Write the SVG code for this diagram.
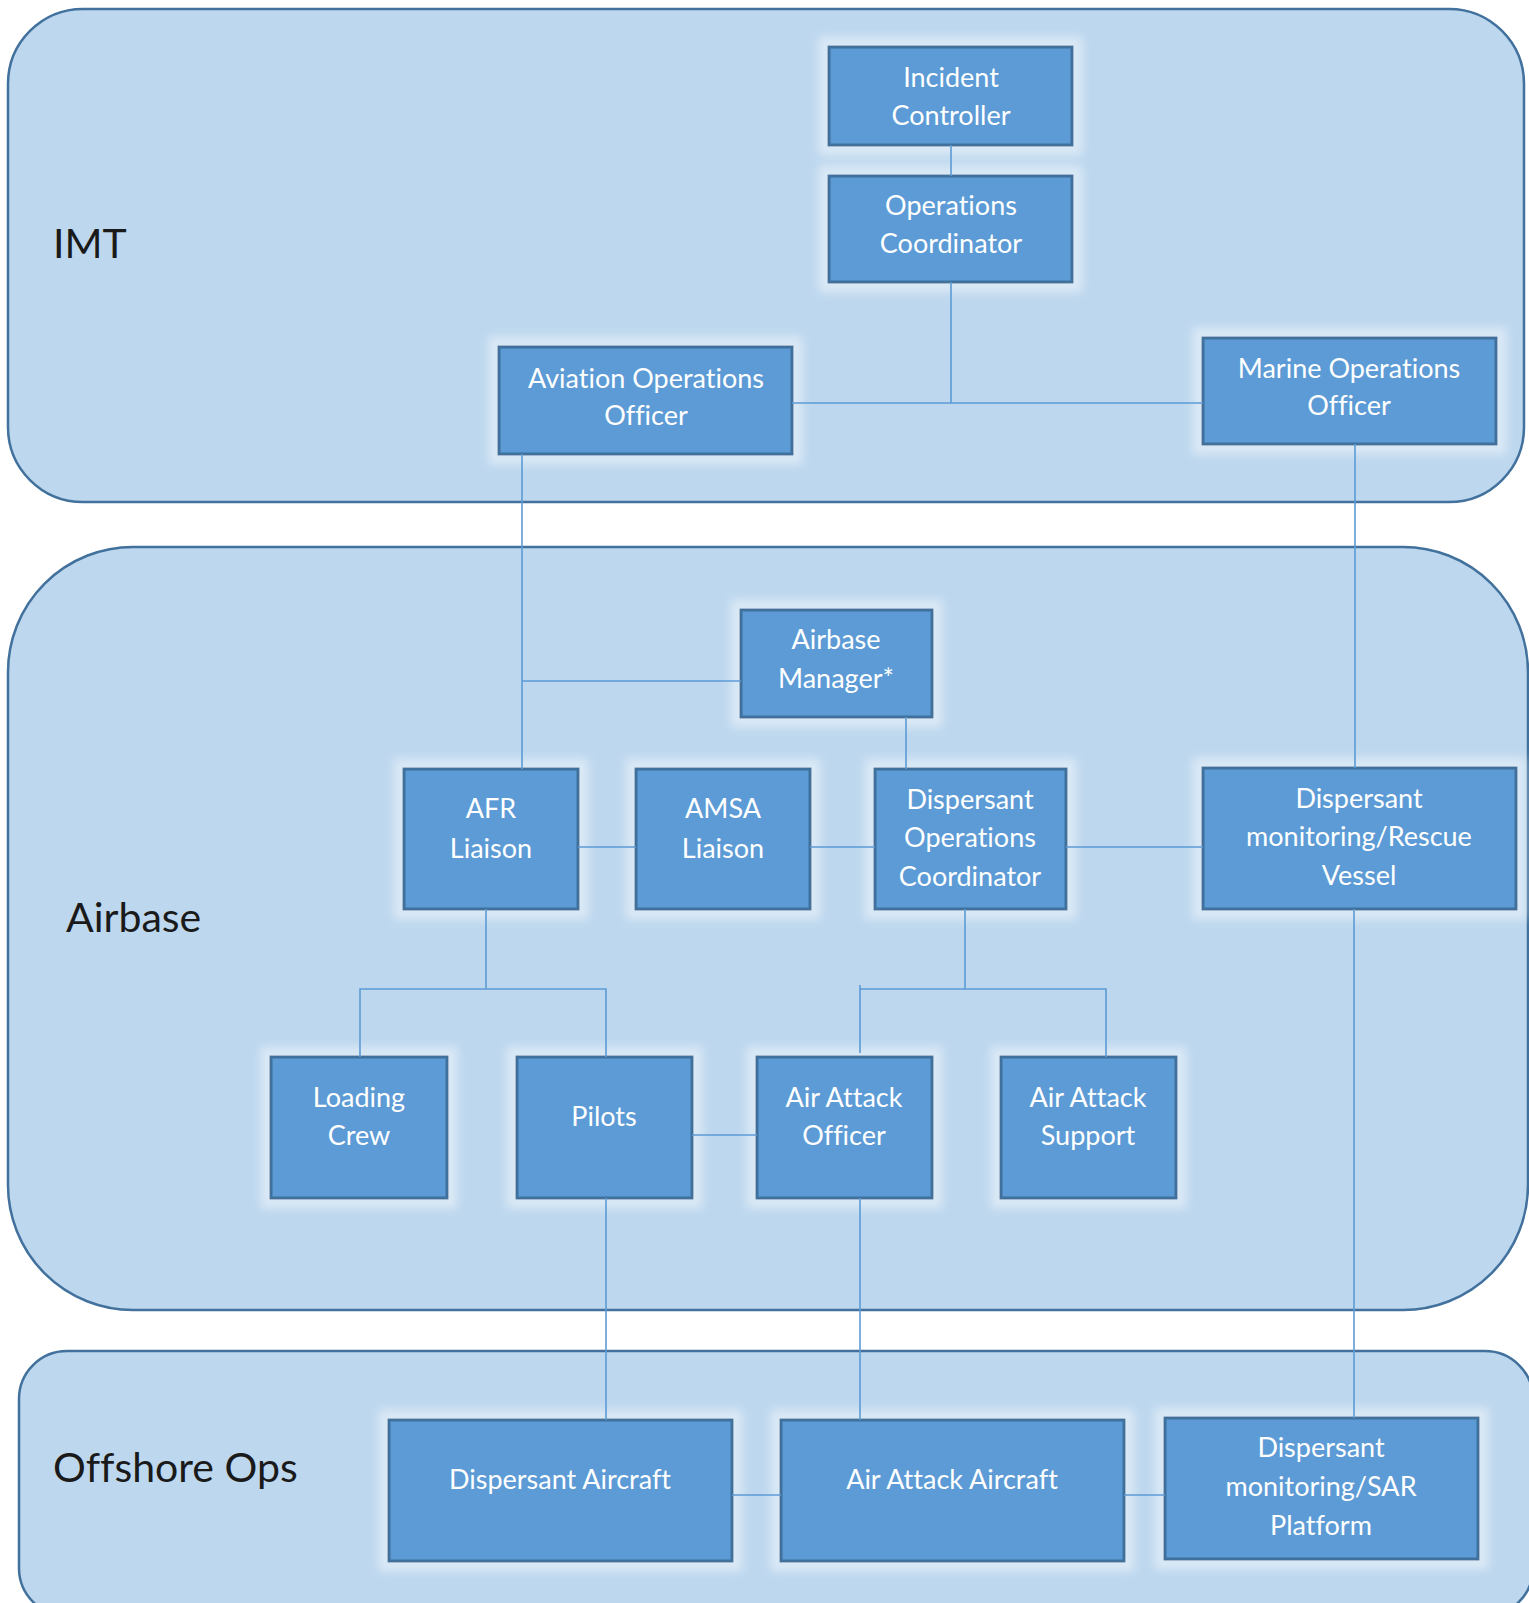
<svg xmlns="http://www.w3.org/2000/svg" width="1529" height="1603" viewBox="0 0 1529 1603">
<defs>
<filter id="glow" x="-20%" y="-30%" width="140%" height="160%">
<feMorphology in="SourceAlpha" operator="dilate" radius="9" result="d"/>
<feGaussianBlur in="d" stdDeviation="5" result="b"/>
<feFlood flood-color="#ffffff" flood-opacity="0.45"/>
<feComposite in2="b" operator="in" result="g"/>
<feMerge><feMergeNode in="g"/><feMergeNode in="SourceGraphic"/></feMerge>
</filter>
<style>
.zone{fill:#BDD7EE;stroke:#41719C;stroke-width:2.5}
.zl{font-family:Lato,"Liberation Sans",sans-serif;font-size:41px;fill:#1a1a1a;font-variant-ligatures:none}
.box{fill:#5B9BD5;stroke:#41719C;stroke-width:3;filter:url(#glow)}
.t{font-family:Lato,"Liberation Sans",sans-serif;font-size:27px;fill:#ffffff;text-anchor:middle;font-variant-ligatures:none}
.c{fill:none;stroke:#5B9BD5;stroke-width:1.6}
</style>
</defs>
<rect width="1529" height="1603" fill="#ffffff"/>
<g id="zone-imt"><rect class="zone" x="8" y="9" width="1516" height="493" rx="75" ry="75"/><text class="zl" x="53" y="258">IMT</text></g>
<g id="zone-airbase"><rect class="zone" x="8" y="547" width="1520" height="763" rx="125" ry="125"/><text class="zl" x="66" y="932">Airbase</text></g>
<g id="zone-offshore"><rect class="zone" x="19" y="1351" width="1514" height="265" rx="48" ry="48"/><text class="zl" x="53" y="1482">Offshore Ops</text></g>

<g id="incident-controller"><rect class="box" x="829" y="47" width="243" height="98"/><text class="t" x="951" y="87">Incident</text><text class="t" x="951" y="125">Controller</text></g>
<g id="operations-coordinator"><rect class="box" x="829" y="176" width="243" height="106"/><text class="t" x="951" y="215">Operations</text><text class="t" x="951" y="253">Coordinator</text></g>
<g id="aviation-operations-officer"><rect class="box" x="499" y="347" width="293" height="107"/><text class="t" x="646" y="388">Aviation Operations</text><text class="t" x="646" y="425">Officer</text></g>
<g id="marine-operations-officer"><rect class="box" x="1203" y="338" width="293" height="106"/><text class="t" x="1349" y="378">Marine Operations</text><text class="t" x="1349" y="415">Officer</text></g>
<g id="airbase-manager"><rect class="box" x="741" y="610" width="191" height="107"/><text class="t" x="836" y="649">Airbase</text><text class="t" x="836" y="688">Manager*</text></g>
<g id="afr-liaison"><rect class="box" x="404" y="769" width="174" height="140"/><text class="t" x="491" y="818">AFR</text><text class="t" x="491" y="858">Liaison</text></g>
<g id="amsa-liaison"><rect class="box" x="636" y="769" width="174" height="140"/><text class="t" x="723" y="818">AMSA</text><text class="t" x="723" y="858">Liaison</text></g>
<g id="dispersant-operations-coordinator"><rect class="box" x="875" y="769" width="191" height="140"/><text class="t" x="970" y="809">Dispersant</text><text class="t" x="970" y="847">Operations</text><text class="t" x="970" y="886">Coordinator</text></g>
<g id="dispersant-monitoring-rescue-vessel"><rect class="box" x="1203" y="768" width="313" height="141"/><text class="t" x="1359" y="808">Dispersant</text><text class="t" x="1359" y="846">monitoring/Rescue</text><text class="t" x="1359" y="885">Vessel</text></g>
<g id="loading-crew"><rect class="box" x="271" y="1057" width="176" height="141"/><text class="t" x="359" y="1107">Loading</text><text class="t" x="359" y="1145">Crew</text></g>
<g id="pilots"><rect class="box" x="517" y="1057" width="175" height="141"/><text class="t" x="604" y="1126">Pilots</text></g>
<g id="air-attack-officer"><rect class="box" x="757" y="1057" width="175" height="141"/><text class="t" x="844" y="1107">Air Attack</text><text class="t" x="844" y="1145">Officer</text></g>
<g id="air-attack-support"><rect class="box" x="1001" y="1057" width="175" height="141"/><text class="t" x="1088" y="1107">Air Attack</text><text class="t" x="1088" y="1145">Support</text></g>
<g id="dispersant-aircraft"><rect class="box" x="389" y="1420" width="343" height="141"/><text class="t" x="560" y="1489">Dispersant Aircraft</text></g>
<g id="air-attack-aircraft"><rect class="box" x="781" y="1420" width="343" height="141"/><text class="t" x="952" y="1489">Air Attack Aircraft</text></g>
<g id="dispersant-monitoring-sar-platform"><rect class="box" x="1165" y="1418" width="313" height="141"/><text class="t" x="1321" y="1457">Dispersant</text><text class="t" x="1321" y="1496">monitoring/SAR</text><text class="t" x="1321" y="1535">Platform</text></g>

<g id="connectors">
<path class="c" d="M951,145V176"/>
<path class="c" d="M951,282V403"/>
<path class="c" d="M792,403H1203"/>
<path class="c" d="M522,454V769"/>
<path class="c" d="M522,681H741"/>
<path class="c" d="M1355,444V768"/>
<path class="c" d="M906,717V769"/>
<path class="c" d="M578,847H636"/>
<path class="c" d="M810,847H875"/>
<path class="c" d="M1066,847H1203"/>
<path class="c" d="M486,909V989"/>
<path class="c" d="M360,1057V989H606V1057"/>
<path class="c" d="M965,909V989"/>
<path class="c" d="M860,1053V985"/>
<path class="c" d="M860,989H1106V1057"/>
<path class="c" d="M692,1135H757"/>
<path class="c" d="M606,1198V1420"/>
<path class="c" d="M860,1198V1420"/>
<path class="c" d="M1354,909V1418"/>
<path class="c" d="M732,1495H781"/>
<path class="c" d="M1124,1495H1165"/>
</g>
</svg>
